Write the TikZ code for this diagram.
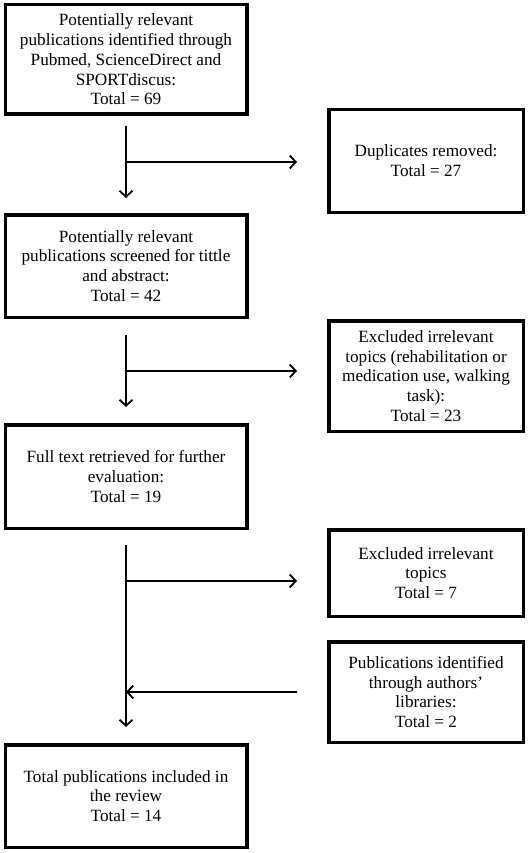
\documentclass[tikz,border=0pt]{standalone}
\usepackage{fontspec}
\setmainfont{Liberation Serif}
\usetikzlibrary{arrows.meta}
\tikzset{
  box/.style={draw, line width=3.5pt, align=center, inner sep=0pt,
    font=\fontsize{17.2}{19.8}\selectfont},
  leftbox/.style={box, minimum width=241.5pt},
  rightbox/.style={box, minimum width=194.5pt},
  flow/.style={line width=1.8pt, -{Straight Barb[length=6pt,width=13pt,line width=1.8pt]}},
  link/.style={line width=1.8pt},
}
\begin{document}
\begin{tikzpicture}[x=1pt,y=-1pt]
\useasboundingbox (0,0) rectangle (529,853);
% main column
\node[leftbox, minimum height=109.5pt] (found) at (126,59.5)
  {Potentially relevant\\publications identified through\\Pubmed, ScienceDirect and\\SPORTdiscus:\\Total = 69};
\node[leftbox, minimum height=102.5pt] (screen) at (126,266)
  {Potentially relevant\\publications screened for tittle\\and abstract:\\Total = 42};
\node[leftbox, minimum height=103.5pt] (full) at (126,476.5)
  {Full text retrieved for further\\evaluation:\\Total = 19};
\node[leftbox, minimum height=102.5pt] (incl) at (126,796)
  {Total publications included in\\the review\\Total = 14};
% side boxes
\node[rightbox, minimum height=102.5pt] (dup) at (426,161)
  {Duplicates removed:\\Total = 27};
\node[rightbox, minimum height=110.5pt] (irrel) at (426,376)
  {Excluded irrelevant\\topics (rehabilitation or\\medication use, walking\\task):\\Total = 23};
\node[rightbox, minimum height=86.5pt] (excl) at (426,573)
  {Excluded irrelevant\\topics\\Total = 7};
\node[rightbox, minimum height=100.5pt] (lib) at (426,692)
  {Publications identified\\through authors'\\libraries:\\Total = 2};
% branch points
\coordinate (k1) at (126,162);
\coordinate (k2) at (126,371);
\coordinate (k3) at (126,581);
% connectors
\draw[flow] ([yshift=-10pt]found.south) -- ([yshift=15pt]screen.north);
\draw[flow] (k1) -- ([xshift=-30pt]dup.west |- k1);
\draw[flow] ([yshift=-16pt]screen.south) -- ([yshift=16pt]full.north);
\draw[flow] (k2) -- ([xshift=-30pt]irrel.west |- k2);
\draw[flow] ([yshift=-15pt]full.south) -- ([yshift=16pt]incl.north);
\draw[flow] (k3) -- ([xshift=-30pt]excl.west |- k3);
\draw[flow] ([xshift=-30pt]lib.west) -- (k3 |- lib.west);
\end{tikzpicture}
\end{document}
